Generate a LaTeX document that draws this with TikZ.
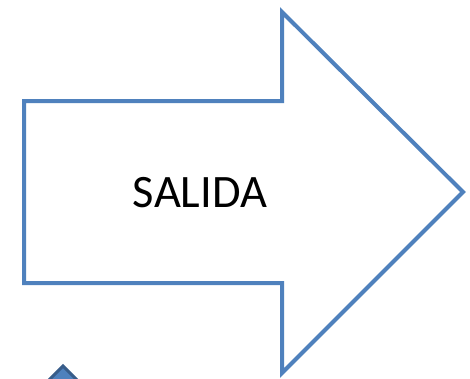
\documentclass[tikz,border=0pt]{standalone}
\usepackage{fontspec}
\setmainfont{Carlito}
\definecolor{arrowblue}{HTML}{4F81BD}
\definecolor{darkblue}{HTML}{385D8A}
\begin{document}
\begin{tikzpicture}[x=1pt,y=-1pt,
  outline/.style={draw=arrowblue,line width=4pt,fill=white,line join=miter},
  solid/.style={draw=darkblue,fill=arrowblue,line width=3pt,line join=miter}]
\useasboundingbox (0,0) rectangle (470,378);
\begin{scope}
\clip (0,0) rectangle (470,378);
\draw[outline] (24,101) -- (282,101) -- (282,12) -- (463,192) -- (282,373) -- (282,283) -- (24,283) -- cycle;
\node[font=\fontsize{46.5}{54}\selectfont,inner sep=0pt] (lbl) at (200,193) {SALIDA};
\draw[solid] (63,366) -- (23,406) -- (103,406) -- cycle;
\end{scope}
\end{tikzpicture}
\end{document}
